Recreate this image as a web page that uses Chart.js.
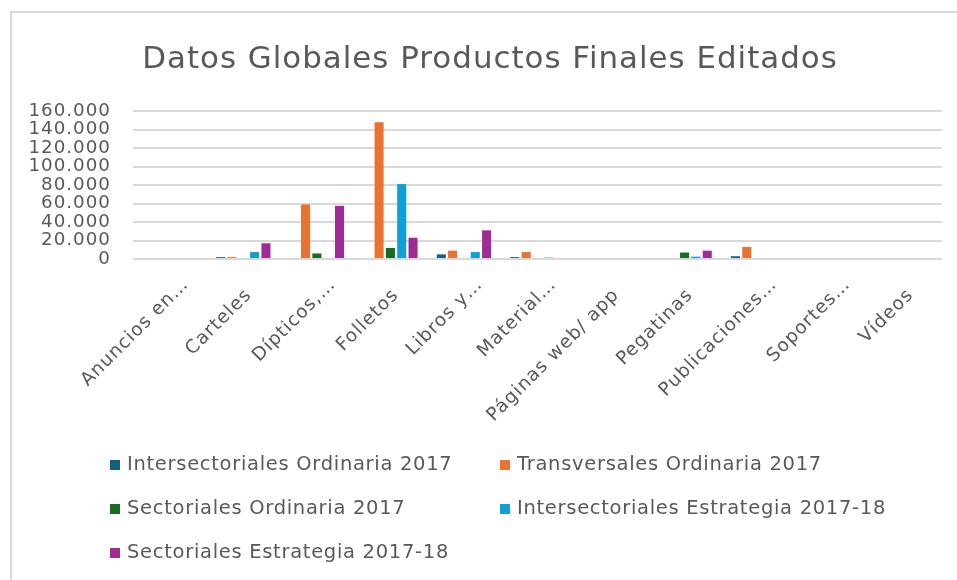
<!DOCTYPE html>
<html>
<head>
<meta charset="utf-8">
<script src="https://cdn.jsdelivr.net/npm/chart.js@4"></script>
<style>
  html, body { margin: 0; padding: 0; background: #fff; overflow: hidden; }
  #frame { position: absolute; left: 10px; top: 11px; width: 980px; height: 620px; border: 2px solid #d9d9d9; box-sizing: border-box; }
  #wrap { position: absolute; left: 0; top: 0; width: 957px; height: 580px; }
  #legend { position: absolute; left: 0; top: 0; font-family: "DejaVu Sans", sans-serif; font-size: 19.5px; letter-spacing: 0.7px; color: #595959; }
  .item { position: absolute; white-space: nowrap; line-height: 20px; }
  .box { display: inline-block; width: 10px; height: 10px; margin-right: 7px; vertical-align: 0px; }
</style>
</head>
<body>
<div id="frame"></div>
<div id="wrap"><canvas id="myChart" width="957" height="580"></canvas></div>
<div id="legend"></div>
<script>
const categories = ['Anuncios en…', 'Carteles', 'Dípticos,…', 'Folletos', 'Libros y…', 'Material…',
    'Páginas web/ app', 'Pegatinas', 'Publicaciones…', 'Soportes…', 'Vídeos'];

const seriesNames = ['Intersectoriales Ordinaria 2017', 'Transversales Ordinaria 2017',
    'Sectoriales Ordinaria 2017', 'Intersectoriales Estrategia 2017-18', 'Sectoriales Estrategia 2017-18'];

const interOrd2017   = [0, 2000, 0, 0, 5000, 2000, 0, 0, 3000, 0, 0];
const transOrd2017   = [0, 2000, 59000, 148000, 9000, 7500, 0, 0, 13000, 0, 0];
const sectOrd2017    = [0, 0, 6000, 12000, 0, 0, 0, 7000, 0, 0, 0];
const interEstr1718  = [0, 7500, 0, 81000, 7500, 1500, 0, 2500, 0, 0, 0];
const sectEstr1718   = [0, 17000, 57500, 23000, 31000, 0, 0, 9000, 0, 0, 0];

const yTicks = [0, 20000, 40000, 60000, 80000, 100000, 120000, 140000, 160000];

const colors = ['#156082', '#E97132', '#196B24', '#0F9ED5', '#A02B93'];
const seriesData = [interOrd2017, transOrd2017, sectOrd2017, interEstr1718, sectEstr1718];

const FONT = '"DejaVu Sans", sans-serif';
const TEXT = '#595959';

function fmt(v) {
    return String(v).replace(/\B(?=(\d{3})+(?!\d))/g, '.');
}

// a bit of tracking on all canvas text, like the Office font;
// and the title is centred on the frame, not on the plot
const tweaks = {
    id: 'tweaks',
    beforeLayout: chart => { chart.ctx.letterSpacing = '1px'; },
    afterLayout: chart => { chart.titleBlock.left += 18; },
    beforeDraw: chart => { chart.ctx.letterSpacing = '1px'; }
};

const ctx = document.getElementById('myChart').getContext('2d');

new Chart(ctx, {
    type: 'bar',
    data: {
        labels: categories,
        datasets: seriesNames.map((name, i) => ({
            label: name,
            data: seriesData[i],
            backgroundColor: colors[i],
            categoryPercentage: 0.77,
            barPercentage: 0.8
        }))
    },
    options: {
        responsive: false,
        animation: false,
        layout: { padding: { left: 20, right: 15, top: 14, bottom: 141 } },
        plugins: {
            legend: { display: false },
            tooltip: { enabled: false },
            title: {
                display: true,
                text: 'Datos Globales Productos Finales Editados',
                color: TEXT,
                font: { family: FONT, size: 30.9, weight: 'normal' },
                padding: { top: 27, bottom: 33 }
            }
        },
        scales: {
            x: {
                grid: { display: false },
                border: { display: false },
                ticks: {
                    color: TEXT,
                    font: { family: FONT, size: 18.5 },
                    maxRotation: 45,
                    minRotation: 45,
                    autoSkip: false,
                    padding: 7,
                    labelOffset: 16,
                    // full labels sit a little lower than the cut ones
                    callback: function (v) {
                        const s = this.getLabelForValue(v);
                        return s.endsWith('…') ? s : s + '\u2002\u2009';
                    }
                },
                afterFit: scale => { scale.height = 180; }
            },
            y: {
                min: 0,
                max: 160000,
                border: { display: false },
                grid: { color: '#d9d9d9', lineWidth: 2, drawTicks: false },
                afterBuildTicks: scale => { scale.ticks = yTicks.map(v => ({ value: v })); },
                ticks: {
                    color: TEXT,
                    font: { family: FONT, size: 18.3, lineHeight: 1 },
                    autoSkip: false,
                    padding: 22,
                    callback: v => fmt(v)
                },
                afterFit: scale => { scale.width = 113; }
            }
        }
    },
    plugins: [tweaks]
});

// legend in two columns, built from the series
const legend = document.getElementById('legend');
const cols = [110, 500];
const rows = [454, 498, 542];
seriesNames.forEach((name, i) => {
    const el = document.createElement('div');
    el.className = 'item';
    el.style.left = cols[i % 2] + 'px';
    el.style.top = rows[Math.floor(i / 2)] + 'px';
    el.innerHTML = '<span class="box" style="background:' + colors[i] + '"></span>' + name;
    legend.appendChild(el);
});
</script>
</body>
</html>
